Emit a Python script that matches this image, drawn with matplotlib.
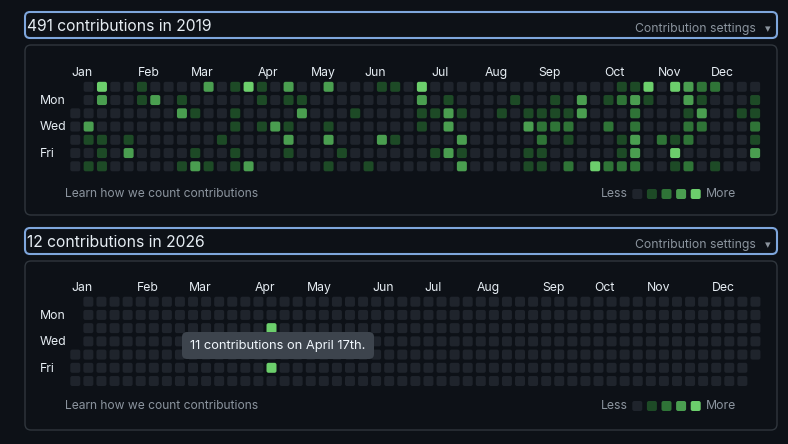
import datetime as dt
import matplotlib
matplotlib.use("Agg")
import matplotlib.pyplot as plt
from matplotlib.patches import FancyBboxPatch

plt.rcParams['font.family'] = ['Inter', 'DejaVu Sans']

W, H = 788, 444
BG = '#0d1117'
BORDER = '#30363d'
FOCUS = '#7ea6dc'
TEXT = '#e6edf3'
MUTED = '#8b949e'
TIP_BG = '#3d444d'
LEVEL_COLORS = ['#1f242c', '#1d4a26', '#2f7437', '#4a9e50', '#6ccf6c']

MONTHS = ["Jan", "Feb", "Mar", "Apr", "May", "Jun",
          "Jul", "Aug", "Sep", "Oct", "Nov", "Dec"]
DAY_LABELS = {1: "Mon", 3: "Wed", 5: "Fri"}

# 2019: one string per weekday (Sun..Sat), one level digit per week column
# '.' = day before Jan 1st. The last week (Dec 29-31) is cut off in the page.
levels_2019 = [
    ".040010000" "3014103003" "0001104000" "0000000000" "0114043220" "00",
    ".030013010" "0000101100" "0000003010" "0001001030" "1231003100" "01",
    "0000000031" "0010000300" "0100001131" "0010111130" "0020001300" "11",
    "0300000000" "0010131001" "0000001030" "0000322200" "2020002200" "02",
    "0110100000" "0100003003" "0003100003" "0000020100" "0130212000" "01",
    "0010300001" "0010001000" "1000000131" "0000110000" "0130040000" "03",
    "0110000013" "1013000001" "0010000003" "0000110204" "2220012010" "00",
]
total_2019 = 491

# 2026: only two days with contributions
total_2026 = 12
levels_2026 = {dt.date(2026, 4, 14): 4, dt.date(2026, 4, 17): 4}
tooltip_2026 = "11 contributions on April 17th."

fig = plt.figure(figsize=(W / 100, H / 100), dpi=100)
fig.patch.set_facecolor(BG)


def px_axes(x0, y0, x1, y1):
    ax = fig.add_axes([x0 / W, 1 - y1 / H, (x1 - x0) / W, (y1 - y0) / H])
    ax.set_axis_off()
    return ax


def cells_from_rows(rows):
    cells = []
    for r, line in enumerate(rows):
        for c, ch in enumerate(line):
            if ch != '.':
                cells.append((c, r, int(ch)))
    return cells


def cells_from_dates(year, levels):
    start = dt.date(year, 1, 1)
    offset = (start.weekday() + 1) % 7
    cells = []
    d = start
    while d.year == year:
        i = (d - start).days + offset
        cells.append((i // 7, i % 7, levels.get(d, 0)))
        d += dt.timedelta(days=1)
    return cells


def month_columns(year):
    # label goes on the first week that starts inside the month
    start = dt.date(year, 1, 1)
    offset = (start.weekday() + 1) % 7
    cols = [0]
    for m in range(2, 13):
        first = dt.date(year, m, 1)
        sunday = first + dt.timedelta(days=(6 - first.weekday()) % 7)
        cols.append(((sunday - start).days + offset) // 7)
    return cols


def draw_grid(cells, year, ox, oy, pitch_x, pitch_y, right=763):
    x0, x1 = 20, right
    y0, y1 = oy - 30, oy + 6 * pitch_y + 8
    ax = px_axes(x0, y0, x1, y1)
    ax.set_xlim((x0 - ox) / pitch_x, (x1 - ox) / pitch_x)
    ax.set_ylim((y1 - oy) / pitch_y, (y0 - oy) / pitch_y)
    w, h = 10 / pitch_x, 10 / pitch_y
    for c, r, lv in cells:
        ax.add_patch(FancyBboxPatch((c - w / 2, r - h / 2), w, h,
                                    boxstyle=f"round,pad=0,rounding_size={2 / pitch_x:.3f}",
                                    fc=LEVEL_COLORS[lv], ec='none'))
    for name, c in zip(MONTHS, month_columns(year)):
        ax.text(c - 0.3, -1.02, name, color=TEXT, fontsize=8.8,
                ha='left', va='center')
    for r, name in DAY_LABELS.items():
        ax.text((40 - ox) / pitch_x, r + 0.06, name, color=TEXT, fontsize=8.8,
                ha='left', va='center')
    return ax


draw_grid(cells_from_rows(levels_2019), 2019, 75.3, 86.8, 13.33, 13.25)
draw_grid(cells_from_dates(2026, levels_2026), 2026, 75.3, 301.7, 13.08, 13.22)

# page chrome on top, in pixel units
ov = px_axes(0, 0, W, H)
ov.set_xlim(0, W)
ov.set_ylim(H, 0)


def panel(top, bottom, title):
    ov.add_patch(FancyBboxPatch((25, top), 752, 26,
                                boxstyle="round,pad=0,rounding_size=5",
                                fc='none', ec=FOCUS, lw=1.5))
    ov.text(27, top + 14.3, title, color=TEXT, fontsize=11.3,
            ha='left', va='center')
    ov.text(756, top + 17, "Contribution settings", color=MUTED,
            fontsize=8.8, ha='right', va='center')
    ov.text(768, top + 17, "▾", color=MUTED, fontsize=8,
            ha='center', va='center', family='DejaVu Sans')
    ov.add_patch(FancyBboxPatch((25, top + 33), 752, bottom - top - 33,
                                boxstyle="round,pad=0,rounding_size=6",
                                fc='none', ec=BORDER, lw=1))
    fy = bottom - 21 if bottom < 300 else bottom - 24
    ov.text(65, fy, "Learn how we count contributions", color=MUTED,
            fontsize=8.7, ha='left', va='center')
    ov.text(628, fy, "Less", color=MUTED, fontsize=8.8, ha='right', va='center')
    for i, col in enumerate(LEVEL_COLORS):
        ov.add_patch(FancyBboxPatch((632.3 + i * 14.6, fy - 5), 10, 10,
                                    boxstyle="round,pad=0,rounding_size=2",
                                    fc=col, ec='none'))
    ov.text(706, fy, "More", color=MUTED, fontsize=8.8, ha='left', va='center')


panel(12, 215, f"{total_2019} contributions in 2019")
panel(228, 430, f"{total_2026} contributions in 2026")

# hover tooltip over April 17th
ov.add_patch(FancyBboxPatch((182, 332), 192, 27,
                            boxstyle="round,pad=0,rounding_size=5",
                            fc=TIP_BG, ec='none'))
ov.text(278, 345.5, tooltip_2026, color='#f0f6fc', fontsize=9.3,
        ha='center', va='center')

fig.savefig("out.png", dpi=100, facecolor=BG)
